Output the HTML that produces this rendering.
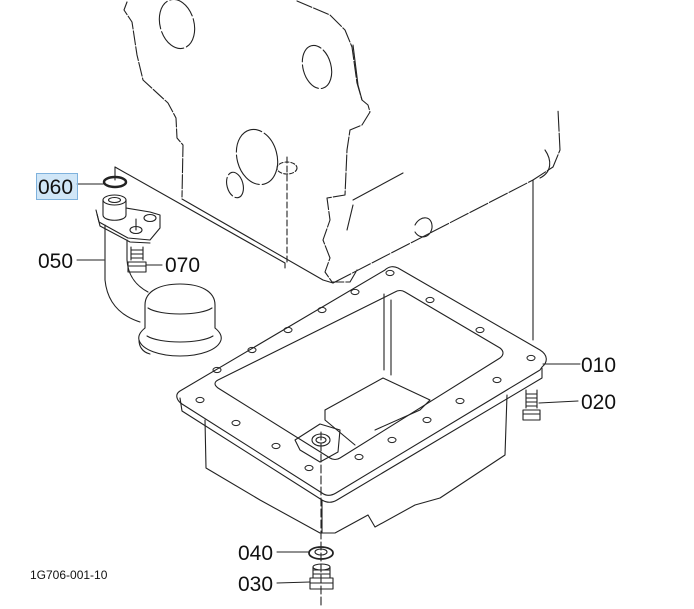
<!DOCTYPE html>
<html><head><meta charset="utf-8"><style>
html,body{margin:0;padding:0;background:#fff;}
svg{display:block;}
text{font-family:"Liberation Sans",sans-serif;fill:#111;}
</style></head><body>
<svg width="694" height="609" viewBox="0 0 694 609" xmlns="http://www.w3.org/2000/svg" fill="none" stroke="#222" stroke-width="1.1" stroke-linejoin="round" stroke-linecap="round">
<!-- engine block outline -->
<path d="M127,2 L124,10 L132,22 L137,55 L143,80 L168,103 L176,118 L177,138 L183,145 L182,197" stroke-dasharray="14 2"/>
<path d="M297,1 L330,15 L345,30 L352,47 L357,83 L362,100 L368,105 L370,112 L362,125 L350,130 L347,150 L345,195 L327,198 L330,220 L323,240 L330,258 L325,272 L332,282 L350,282 L357,270" stroke-dasharray="16 2"/>
<path d="M353,45 L358,85 L362,100" />
<path d="M353,200 L403,173"/>
<path d="M353,205 L347,230"/>
<path d="M333,283 L533,180 L553,167 L560,150 L558,110" stroke-dasharray="20 2"/>
<path d="M533,180 L533,340" />
<path d="M545,150 C552,160 552,172 540,178"/>
<path d="M415,225 C420,215 433,215 432,228 C430,238 420,240 415,232"/>
<!-- holes -->
<ellipse cx="177" cy="24" rx="17" ry="25" transform="rotate(-15 177 24)" stroke-dasharray="30 3"/>
<ellipse cx="317" cy="67" rx="14" ry="22" transform="rotate(-15 317 67)" stroke-dasharray="30 3"/>
<ellipse cx="257" cy="157" rx="20" ry="28" transform="rotate(-15 257 157)" stroke-dasharray="40 3"/>
<ellipse cx="235" cy="185" rx="8" ry="13" transform="rotate(-15 235 185)" stroke-dasharray="20 3"/>
<ellipse cx="287" cy="168" rx="10" ry="6" stroke-dasharray="4 2"/>
<path d="M287,157 L287,262" stroke-dasharray="6 3"/>
<!-- gasket plane -->
<path d="M115,167 L285,263 L285,268"/>
<path d="M115,167 L115,180"/>
<path d="M182,199 L323,280 L333,283"/>
<!-- O-ring 060 -->
<ellipse cx="115" cy="182" rx="11" ry="5" stroke-width="2.5"/>
<path d="M77,184 L103,184"/>
<!-- pipe flange 050 -->
<path d="M103,200 L103,215 C103,222 126,222 126,215 L126,200"/>
<ellipse cx="114.5" cy="200" rx="11.5" ry="5"/>
<ellipse cx="114.5" cy="200" rx="6" ry="2.5"/>
<path d="M96,210 L99,222 L128,238 L150,240 L160,228 L160,215 L150,212 L126,208"/>
<path d="M97,214 L100,226 L130,242 L150,243"/>
<ellipse cx="150" cy="218" rx="6" ry="3.5"/>
<ellipse cx="136" cy="230" rx="6" ry="3.5"/>
<path d="M136,219 L136,230"/>
<path d="M105,225 L105,280 C107,300 118,315 140,322"/>
<path d="M127,240 L127,260 C128,275 135,285 148,292"/>
<path d="M77,260 L104,260"/>
<!-- bolt 070 -->
<path d="M131,247 L131,260 M143,247 L143,260 M131,250 L143,250 M131,254 L143,254 M131,258 L143,258"/>
<path d="M128,262 L128,272 L146,272 L146,262 Z M128,266 L146,266"/>
<path d="M146,265 L162,265"/>
<!-- strainer -->
<path d="M145,328 L145,305 C145,291 160,284 180,284 C200,284 215,291 215,305 L215,328"/>
<path d="M148,308 C160,316 200,316 212,308"/>
<path d="M145,328 C140,332 138,336 139,340 C142,350 160,356 180,356 C200,356 218,350 221,340 C222,336 220,332 215,328"/>
<path d="M139,340 C139,346 142,352 150,354"/>
<path d="M147,336 C160,344 200,344 213,336"/>
<!-- oil pan flange -->
<path d="M385,270 C389,266 394,266 398,268 L540,350 C548,355 548,362 542,367 L540,370 L336,493 C331,496 326,496 322,493 L182,404 C176,400 175,394 180,391 Z"/>
<path d="M180,398 L182,411 L322,500 C327,503 332,503 337,500 L542,378 L542,368"/>
<!-- inner opening -->
<path d="M395,292 C398,290 402,290 405,292 L500,348 C504,351 504,355 500,358 L340,458 C337,460 333,460 330,458 L218,388 C214,385 214,382 218,380 Z"/>
<path d="M384,294 L384,370 M391,300 L391,375"/>
<path d="M325,410 L383,378 L430,400 L420,410 L375,430"/>
<path d="M325,410 L325,420 L355,445"/>
<!-- drain boss -->
<path d="M295,440 L320,424 L340,430 L338,452 L320,462 L300,450 Z"/>
<ellipse cx="321" cy="440" rx="9" ry="6"/>
<ellipse cx="321" cy="440" rx="5" ry="3"/>
<path d="M321,432 L321,608" stroke-dasharray="8 3"/>
<!-- pan body -->
<path d="M205,420 L206,468 L260,500 L320,533 L335,533 L368,515 L375,527 L415,505 L440,498 L505,455 L507,395"/>
<path d="M322,500 L322,533"/>
<!-- flange holes -->
<g stroke-width="1">
<ellipse cx="390" cy="273" rx="4" ry="2.6"/><ellipse cx="355" cy="292" rx="4" ry="2.6"/><ellipse cx="322" cy="310" rx="4" ry="2.6"/><ellipse cx="288" cy="330" rx="4" ry="2.6"/><ellipse cx="252" cy="350" rx="4" ry="2.6"/><ellipse cx="217" cy="370" rx="4" ry="2.6"/><ellipse cx="200" cy="400" rx="4" ry="2.6"/><ellipse cx="236" cy="423" rx="4" ry="2.6"/><ellipse cx="276" cy="446" rx="4" ry="2.6"/><ellipse cx="309" cy="468" rx="4" ry="2.6"/>
<ellipse cx="430" cy="300" rx="4" ry="2.6"/><ellipse cx="480" cy="330" rx="4" ry="2.6"/><ellipse cx="531" cy="358" rx="4" ry="2.6"/><ellipse cx="497" cy="380" rx="4" ry="2.6"/><ellipse cx="460" cy="401" rx="4" ry="2.6"/><ellipse cx="427" cy="420" rx="4" ry="2.6"/><ellipse cx="392" cy="440" rx="4" ry="2.6"/><ellipse cx="359" cy="457" rx="4" ry="2.6"/>
</g>
<path d="M543,364 L580,364"/>
<!-- bolt 020 -->
<path d="M526,390 L526,408 M537,390 L537,408 M526,394 L537,394 M526,398 L537,398 M526,402 L537,402 M526,406 L537,406"/>
<path d="M523,410 L523,420 L540,420 L540,410 Z M523,414 L540,414"/>
<path d="M539,403 L578,401"/>
<!-- washer 040 -->
<ellipse cx="321" cy="553" rx="12" ry="6" stroke-width="1.8"/>
<ellipse cx="321" cy="552" rx="6" ry="3"/>
<path d="M277,552 L308,552"/>
<!-- plug 030 -->
<path d="M313,567 L313,578 M330,567 L330,578 M313,570 L330,570 M313,574 L330,574"/>
<ellipse cx="321.5" cy="567" rx="8.5" ry="3"/>
<path d="M310,578 L310,589 L333,589 L333,578 Z M310,583 L333,583"/>
<path d="M277,583 L310,582"/>
</svg>
<div style="position:absolute;left:36px;top:173px;width:40px;height:25px;background:rgba(170,210,240,0.55);border:1px solid #7fb2dd;"></div>
<svg width="694" height="609" style="position:absolute;left:0;top:0" xmlns="http://www.w3.org/2000/svg">
<g font-size="21">
<text x="38" y="194">060</text>
<text x="38" y="268">050</text>
<text x="165" y="272">070</text>
<text x="581" y="372">010</text>
<text x="581" y="409">020</text>
<text x="238" y="560">040</text>
<text x="238" y="591">030</text>
</g>
<text x="30" y="579" font-size="12">1G706-001-10</text>
</svg>
</body></html>
